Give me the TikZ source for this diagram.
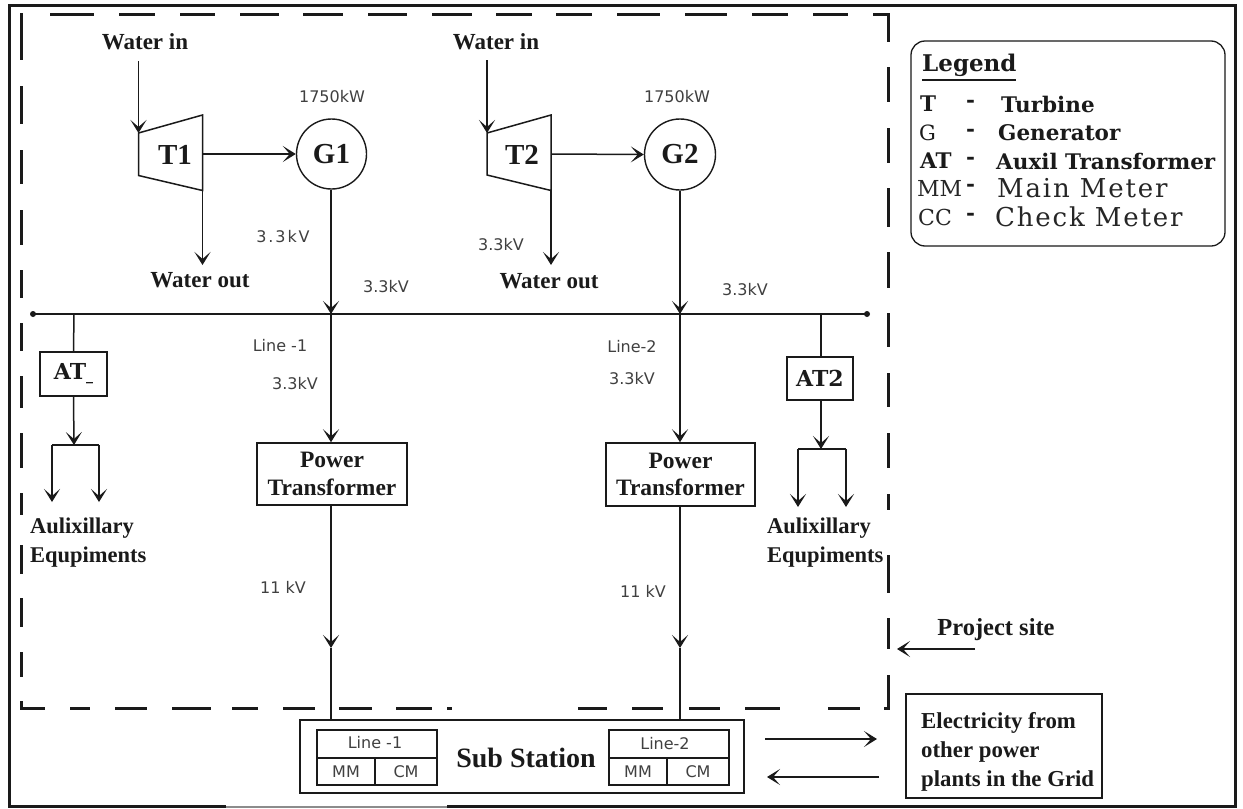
\documentclass[tikz,border=0pt]{standalone}
\usepackage{fontspec}
\setmainfont{Liberation Serif}
\newfontfamily\kvfont{DejaVu Sans}
\newfontfamily\legfont{DejaVu Serif}
\usetikzlibrary{arrows.meta}
\definecolor{ink}{HTML}{1A1A1A}
\newcommand{\fs}[1]{\fontsize{#1}{#1}\selectfont}
\tikzset{
  wire/.style={draw=ink,line width=1.5pt},
  arr/.style={wire,-{Stealth[length=13pt,width=16pt,inset=7pt]}},
  lbl/.style={inner sep=0pt,text=ink,font=\bfseries\fs{23},align=center},
  lbl2/.style={lbl,font=\bfseries\fs{22.5},align=left},
  kv/.style={inner sep=0pt,text=black!75,font=\kvfont\fs{16}},
  sym/.style={inner sep=0pt,text=ink,font=\bfseries\fs{29}},
  boxn/.style={draw=ink,line width=1.5pt,inner sep=0pt},
  legt/.style={inner sep=0pt,anchor=west,text=ink,font=\legfont\bfseries\fs{21.5}},
  legl/.style={inner sep=0pt,anchor=west,text=black!85,font=\legfont\fs{26}\addfontfeature{LetterSpace=7}},
  dashln/.style={draw=ink,line width=3pt}
}
\begin{document}
\begin{tikzpicture}[x=1pt,y=-1pt]
\useasboundingbox (0,0) rectangle (1243,809);
\fill[white] (0,0) rectangle (1243,809);
% outer frame
\draw[draw=ink,line width=3pt,line join=miter] (226,806.5) -- (9.5,806.5) -- (9.5,5) -- (1235,5) -- (1235,806.5) -- (447,806.5);
\draw[draw=black!45,line width=1.5pt] (226,807) -- (447,807);
% dashed project boundary
\foreach \a/\b in {50/94,119/155,180/215,240/279,303/343,368/407,432/472,496/532,556/592,617/660,685/727,752/788,813/848,873/889.5}
  \draw[dashln] (\a,14) -- (\b,14);
\foreach \a/\b in {13/60,86/124,150/184,210/245,270/298,323/351,376/408,433/468,493/515,545/574,598/627,652/677,701/709.5}
  \draw[dashln] (21,\a) -- (21,\b);
\foreach \a/\b in {13/42,67/102,128/163,188/227,252/288,313/347,373/407,433/468,494/510,555/593,618/649,675/709.5}
  \draw[dashln] (888,\a) -- (888,\b);
\foreach \a/\b in {20/45,70/90,115/147,172/211,232/258,283/315,339/372,396/432,447/452,578/607,632/663,689/720,745/780,828/860,884/889.5}
  \draw[dashln] (\a,708) -- (\b,708);
% turbines
\coordinate (t1a) at (138.5,133); \coordinate (t1b) at (202.5,115); \coordinate (t1c) at (202.5,190.5); \coordinate (t1d) at (138.5,175.5);
\coordinate (t2a) at (487,133); \coordinate (t2b) at (551,115); \coordinate (t2c) at (551,190.5); \coordinate (t2d) at (487,175);
\coordinate (t1o) at (202.5,154); \coordinate (t2o) at (551,154);
\draw[wire] (t1a) -- (t1b) -- (t1c) -- (t1d) -- cycle;
\draw[wire] (t2a) -- (t2b) -- (t2c) -- (t2d) -- cycle;
\node[sym] (T1) at (175,155) {T1};
\node[sym] (T2) at (522,155) {T2};
% generators
\node[draw=ink,line width=1.4pt,circle,minimum size=70pt,sym] (G1) at (331.5,154) {G1};
\node[draw=ink,line width=1.4pt,circle,minimum size=71pt,sym] (G2) at (680,154.5) {G2};
% labels
\node[lbl] (wi1) at (145,42) {Water in};
\node[lbl] (wi2) at (496,42) {Water in};
\node[lbl] (wo1) at (200,280) {Water out};
\node[lbl] (wo2) at (549,281) {Water out};
\node[kv] (kw1) at (332,97) {1750kW};
\node[kv] (kw2) at (677,97) {1750kW};
\node[kv] (v1) at (283,237) {\addfontfeature{LetterSpace=12}3.3kV};
\node[kv] (v2) at (386,287) {3.3kV};
\node[kv] (v3) at (501,245) {3.3kV};
\node[kv] (v4) at (745,290) {3.3kV};
\node[kv] (l1) at (280,346) {Line -1};
\node[kv] (v5) at (295,384) {3.3kV};
\node[kv] (l2) at (632,347) {Line-2};
\node[kv] (v6) at (632,379) {3.3kV};
\node[kv] (k1) at (283,587) {11 kV};
\node[kv] (k2) at (643,591) {11 kV};
% water connectors
\coordinate (wa1) at (138.5,61); \coordinate (wa2) at (487,60);
\coordinate (wd1) at (202.5,265); \coordinate (wd2) at (551,265);
\draw[arr] (wa1) -- (t1a);
\draw[arr] (wa2) -- (t2a);
\draw[arr] (t1c) -- (wd1);
\draw[arr] (t2c) -- (wd2);
\draw[arr] (t1o) -- (G1.west);
\draw[arr] (t2o) -- (G2.west);
% bus
\coordinate (busL) at (33,314); \coordinate (busR) at (867,314);
\coordinate (b1) at (331,314); \coordinate (b2) at (680,314);
\coordinate (ba1) at (74,314); \coordinate (ba2) at (821,314);
\draw[wire] (busL) -- (busR);
\fill[ink] (busL) circle (3pt) (busR) circle (3pt);
\draw[arr] (b1 |- G1.south) -- (b1);
\draw[arr] (G2.south) -- (b2);
% power transformers
\node[boxn,lbl,font=\bfseries\fs{23.5},minimum width=150pt,minimum height=62pt] (P1) at (332,474) {\raisebox{-1pt}{Power}\\[5pt]Transformer};
\node[boxn,lbl,font=\bfseries\fs{23.5},minimum width=149pt,minimum height=63pt] (P2) at (680.5,474.5) {\raisebox{-1pt}{Power}\\[5pt]Transformer};
\draw[arr] (b1) -- (b1 |- P1.north);
\draw[arr] (b2) -- (b2 |- P2.north);
% substation
\node[boxn,minimum width=444pt,minimum height=73pt] (S) at (522,756.5) {};
\node[lbl,font=\bfseries\fs{28}] (Sn) at (526,758) {Sub Station};
\node[boxn,minimum width=120pt,minimum height=28pt] (a1) at (377,744) {};
\node[boxn,minimum width=58pt,minimum height=27pt] (a2) at (346,771.5) {};
\node[boxn,minimum width=62pt,minimum height=27pt] (a3) at (406,771.5) {};
\node[boxn,minimum width=120pt,minimum height=28pt] (c1) at (669,744) {};
\node[boxn,minimum width=58pt,minimum height=27pt] (c2) at (638,771.5) {};
\node[boxn,minimum width=62pt,minimum height=27pt] (c3) at (698,771.5) {};
\node[kv] at (375,743) {Line -1};
\node[kv] at (a2) {MM};
\node[kv] at (a3) {CM};
\node[kv] at (665,744) {Line-2};
\node[kv] at (c2) {MM};
\node[kv] at (c3) {CM};
% lines down to substation with mid arrows
\coordinate (m1) at (331,648); \coordinate (m2) at (680,648);
\coordinate (s1) at (331,720); \coordinate (s2) at (680,720);
\draw[arr] (b1 |- P1.south) -- (m1);
\draw[wire] (m1) -- (s1);
\draw[arr] (b2 |- P2.south) -- (m2);
\draw[wire] (m2) -- (s2);
% aux left
\node[boxn,sym,font=\legfont\bfseries\fs{22},minimum width=67pt,minimum height=44pt] (AT1) at (73.5,374) {AT\raisebox{-1pt}{\fs{14}\_}};
\coordinate (sp1) at (74,445); \coordinate (sp1l) at (52,445); \coordinate (sp1r) at (99,445);
\coordinate (e1l) at (52,502); \coordinate (e1r) at (99,502);
\draw[wire] (ba1) -- (AT1.north);
\draw[arr] (AT1.south) -- (sp1);
\draw[wire] (sp1l) -- (sp1r);
\draw[arr] (sp1l) -- (e1l);
\draw[arr] (sp1r) -- (e1r);
\node[lbl2,anchor=north west] (eq1) at (30,518) {Aulixillary\\[6pt]Equpiments};
% aux right
\node[boxn,sym,font=\legfont\bfseries\fs{22},minimum width=66pt,minimum height=43pt] (AT2) at (820,378.5) {AT2};
\coordinate (sp2) at (821,449); \coordinate (sp2l) at (798,449); \coordinate (sp2r) at (846,449);
\coordinate (e2l) at (798,507); \coordinate (e2r) at (846,507);
\draw[wire] (ba2) -- (ba2 |- AT2.north);
\draw[arr] (ba2 |- AT2.south) -- (sp2);
\draw[wire] (sp2l) -- (sp2r);
\draw[arr] (sp2l) -- (e2l);
\draw[arr] (sp2r) -- (e2r);
\node[lbl2,anchor=north west] (eq2) at (767,518) {Aulixillary\\[6pt]Equpiments};
% legend
\draw[draw=ink,line width=1.3pt,rounded corners=14pt] (911,41) rectangle (1225,246);
\node[inner sep=0pt,anchor=west,text=ink,font=\legfont\bfseries\fs{23}] (lg) at (922,65) {Legend};
\draw[draw=ink,line width=2.6pt] (922,80) -- (1016,80);
\node[legt] (t0) at (920,104) {T};
\node[legt] (t1) at (966,104) {-};
\node[legt] (t2) at (1001,104) {Turbine};
\node[legt,font=\legfont\fs{21}] (g0) at (919,133) {G};
\node[legt] (g1) at (966,133) {-};
\node[legt] (g2) at (998,133) {Generator};
\node[legt] (at0) at (920,161) {AT};
\node[legt] (at1) at (966,161) {-};
\node[legt] (at2) at (996,161) {Auxil Transformer};
\node[legl,font=\legfont\fs{22}] (m0) at (917,188) {MM};
\node[legt] (m1t) at (966,188) {-};
\node[legl] (m2t) at (997,188) {Main Meter};
\node[legl,font=\legfont\fs{22}] (c0) at (918,217) {CC};
\node[legt] (c1t) at (966,217) {-};
\node[legl] (c2t) at (995,217) {Check Meter};
% project site
\node[lbl,font=\bfseries\fs{24.5}] (ps) at (996,630) {Project site};
\coordinate (pa) at (975,649); \coordinate (pb) at (897,649);
\draw[arr] (pa) -- (pb);
% grid
\node[boxn,minimum width=196pt,minimum height=104pt] (Gr) at (1004,746) {};
\node[lbl,font=\bfseries\fs{22.8},align=left,anchor=west] (Grt) at (921,752) {Electricity from\\[6pt]other power\\[6pt]plants in the Grid};
\coordinate (g1a) at (765,739); \coordinate (g1b) at (877,739);
\coordinate (g2a) at (879,777); \coordinate (g2b) at (767,777);
\draw[arr] (g1a) -- (g1b);
\draw[arr] (g2a) -- (g2b);
\end{tikzpicture}
\end{document}
